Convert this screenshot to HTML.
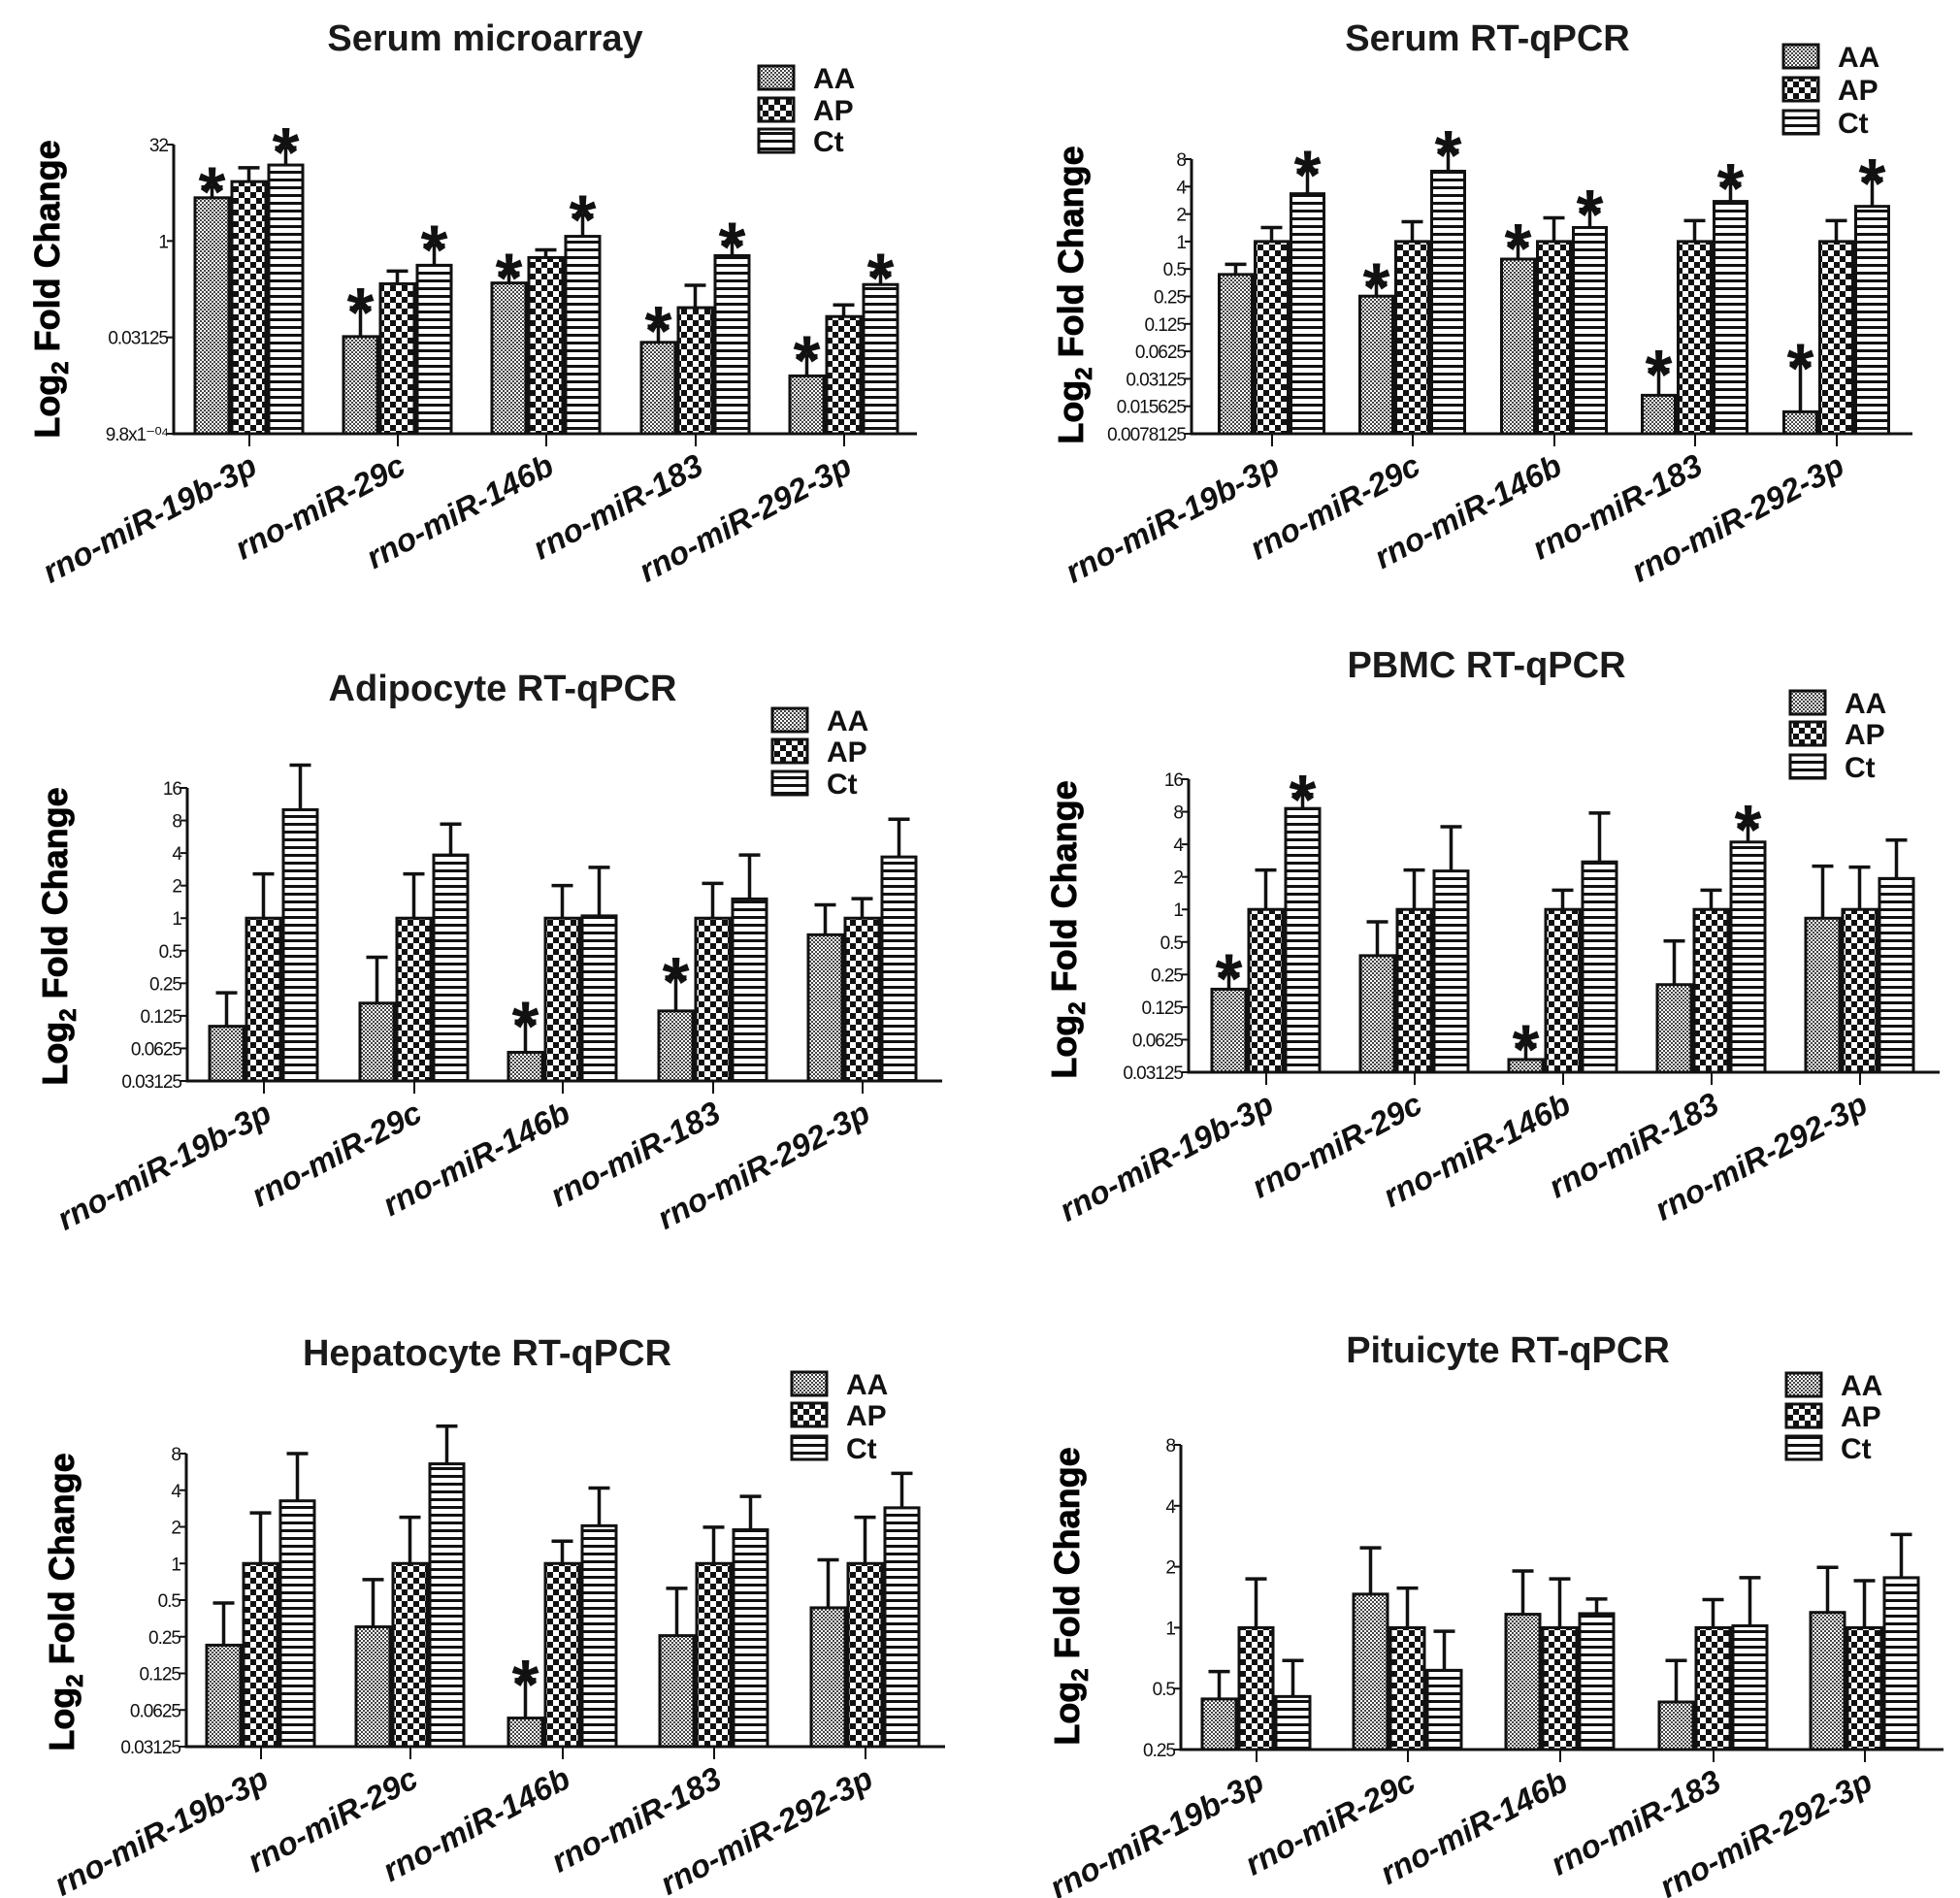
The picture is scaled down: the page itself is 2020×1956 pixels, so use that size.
<!DOCTYPE html>
<html><head><meta charset="utf-8">
<style>
html,body{margin:0;padding:0;background:#fff;}
svg{display:block;}
text{font-family:"Liberation Sans",Arial,sans-serif;}
</style></head>
<body>
<svg id="fig" width="2020" height="1956" viewBox="0 0 2020 1956" xmlns="http://www.w3.org/2000/svg">
<defs>
<pattern id="pAA" width="4" height="4" patternUnits="userSpaceOnUse">
<rect width="4" height="4" fill="#fff"/><rect width="2" height="2" fill="#444"/><rect x="2" y="2" width="2" height="2" fill="#444"/>
</pattern>
<pattern id="pAP" width="12" height="12" patternUnits="userSpaceOnUse">
<rect width="12" height="12" fill="#fff"/><rect width="6" height="6" fill="#111"/><rect x="6" y="6" width="6" height="6" fill="#111"/>
</pattern>
<pattern id="pCt" width="8" height="8" patternUnits="userSpaceOnUse">
<rect width="8" height="8" fill="#fff"/><rect y="0" width="8" height="3" fill="#111"/>
</pattern>
</defs>
</svg>
<script>
const categories = ["rno-miR-19b-3p","rno-miR-29c","rno-miR-146b","rno-miR-183","rno-miR-292-3p"];
const seriesNames = ["AA","AP","Ct"];

// Panel 1: Serum microarray (log2 values)
const p1AA = [2.24,-4.96,-2.18,-5.26,-7.0];
const p1AP = [3.08,-2.22,-0.86,-3.46,-3.92];
const p1Ct = [3.94,-1.26,0.24,-0.76,-2.26];
const p1AAerr = [2.8,-3.46,-1.66,-4.42,-5.96];
const p1APerr = [3.8,-1.56,-0.46,-2.3,-3.32];
const p1Cterr = [4.84,-0.22,1.34,-0.06,-1.66];
const p1Ticks = ["32","1","0.03125","9.8x1\u207B\u2070\u2074"];
const p1TickVals = [5,0,-5,-10];
const p1Stars = [[0,0],[0,2],[1,0],[1,2],[2,0],[2,2],[3,0],[3,2],[4,0],[4,2]];

// Panel 2: Serum RT-qPCR
const p2AA = [-1.2,-1.99,-0.64,-5.6,-6.2];
const p2AP = [0,0,0,0,0];
const p2Ct = [1.74,2.56,0.51,1.46,1.28];
const p2AAerr = [-0.83,-1.5,-0.07,-4.66,-4.43];
const p2APerr = [0.51,0.72,0.86,0.76,0.76];
const p2Cterr = [2.6,3.32,1.17,2.11,2.29];
const p2Ticks = ["8","4","2","1","0.5","0.25","0.125","0.0625","0.03125","0.015625","0.0078125"];
const p2TickVals = [3,2,1,0,-1,-2,-3,-4,-5,-6,-7];
const p2Stars = [[0,2],[1,0],[1,2],[2,0],[2,2],[3,0],[3,2],[4,0],[4,2]];

// Panel 3: Adipocyte RT-qPCR
const p3AA = [-3.32,-2.61,-4.12,-2.85,-0.51];
const p3AP = [0,0,0,0,0];
const p3Ct = [3.33,1.94,0.07,0.59,1.88];
const p3AAerr = [-2.29,-1.2,-3.16,-1.81,0.41];
const p3APerr = [1.36,1.36,1.0,1.07,0.6];
const p3Cterr = [4.7,2.89,1.56,1.94,3.04];
const p3Ticks = ["16","8","4","2","1","0.5","0.25","0.125","0.0625","0.03125"];
const p3TickVals = [4,3,2,1,0,-1,-2,-3,-4,-5];
const p3Stars = [[2,0],[3,0]];

// Panel 4: PBMC RT-qPCR
const p4AA = [-2.45,-1.42,-4.61,-2.31,-0.27];
const p4AP = [0,0,0,0,0];
const p4Ct = [3.1,1.18,1.46,2.07,0.95];
const p4AAerr = [-1.98,-0.38,-4.15,-0.97,1.33];
const p4APerr = [1.21,1.21,0.59,0.59,1.3];
const p4Cterr = [3.53,2.54,2.96,2.6,2.13];
const p4Ticks = p3Ticks;
const p4TickVals = p3TickVals;
const p4Stars = [[0,0],[0,2],[2,0],[3,2]];

// Panel 5: Hepatocyte RT-qPCR
const p5AA = [-2.23,-1.73,-4.22,-1.97,-1.21];
const p5AP = [0,0,0,0,0];
const p5Ct = [1.71,2.72,1.03,0.92,1.52];
const p5AAerr = [-1.08,-0.44,-3.17,-0.68,0.1];
const p5APerr = [1.38,1.26,0.61,0.99,1.26];
const p5Cterr = [3.0,3.75,2.06,1.83,2.46];
const p5Ticks = ["8","4","2","1","0.5","0.25","0.125","0.0625","0.03125"];
const p5TickVals = [3,2,1,0,-1,-2,-3,-4,-5];
const p5Stars = [[2,0]];

// Panel 6: Pituicyte RT-qPCR
const p6AA = [-1.17,0.55,0.22,-1.22,0.25];
const p6AP = [0,0,0,0,0];
const p6Ct = [-1.13,-0.7,0.23,0.03,0.82];
const p6AAerr = [-0.72,1.31,0.93,-0.54,0.99];
const p6APerr = [0.8,0.65,0.8,0.46,0.77];
const p6Cterr = [-0.54,-0.06,0.47,0.82,1.53];
const p6Ticks = ["8","4","2","1","0.5","0.25"];
const p6TickVals = [3,2,1,0,-1,-2];
const p6Stars = [];

const NS = "http://www.w3.org/2000/svg";
const svg = document.getElementById('fig');
function mk(tag, attrs, parent){
  const e = document.createElementNS(NS, tag);
  for (const k in attrs) e.setAttribute(k, attrs[k]);
  (parent||svg).appendChild(e);
  return e;
}

const panels = [
 {name:"serum-microarray", title:"Serum microarray", tx:500, ty:52, ax:179, x1:945, top:149, base:447, vmin:-10, vmax:5,
  groups:[257,410,563,717,870], bw:38, data:[p1AA,p1AP,p1Ct], err:[p1AAerr,p1APerr,p1Cterr], ticks:p1Ticks, tickVals:p1TickVals, stars:p1Stars,
  lx:782, ly:[80,113,145], ytx:48, yty:298},
 {name:"serum-rt-qpcr", title:"Serum RT-qPCR", tx:1533, ty:52, ax:1228, x1:1971, top:164, base:447, vmin:-7, vmax:3,
  groups:[1311,1456,1602,1747,1893], bw:37, data:[p2AA,p2AP,p2Ct], err:[p2AAerr,p2APerr,p2Cterr], ticks:p2Ticks, tickVals:p2TickVals, stars:p2Stars,
  lx:1838, ly:[58,92,126], ytx:1103, yty:304},
 {name:"adipocyte-rt-qpcr", title:"Adipocyte RT-qPCR", tx:518, ty:722, ax:193, x1:971, top:812, base:1114, vmin:-5, vmax:4,
  groups:[272,427,580,735,889], bw:38, data:[p3AA,p3AP,p3Ct], err:[p3AAerr,p3APerr,p3Cterr], ticks:p3Ticks, tickVals:p3TickVals, stars:p3Stars,
  lx:796, ly:[742,774,807], ytx:56, yty:965},
 {name:"pbmc-rt-qpcr", title:"PBMC RT-qPCR", tx:1532, ty:698, ax:1225, x1:1999, top:803, base:1105, vmin:-5, vmax:4,
  groups:[1305,1458,1611,1764,1917], bw:38, data:[p4AA,p4AP,p4Ct], err:[p4AAerr,p4APerr,p4Cterr], ticks:p4Ticks, tickVals:p4TickVals, stars:p4Stars,
  lx:1845, ly:[724,756,790], ytx:1096, yty:958},
 {name:"hepatocyte-rt-qpcr", title:"Hepatocyte RT-qPCR", tx:502, ty:1407, ax:192, x1:974, top:1498, base:1800, vmin:-5, vmax:3,
  groups:[269,423,580,736,892], bw:38, data:[p5AA,p5AP,p5Ct], err:[p5AAerr,p5APerr,p5Cterr], ticks:p5Ticks, tickVals:p5TickVals, stars:p5Stars,
  lx:816, ly:[1426,1458,1492], ytx:63, yty:1651},
 {name:"pituicyte-rt-qpcr", title:"Pituicyte RT-qPCR", tx:1554, ty:1404, ax:1217, x1:2003, top:1489, base:1803, vmin:-2, vmax:3,
  groups:[1295,1451,1608,1766,1922], bw:38, data:[p6AA,p6AP,p6Ct], err:[p6AAerr,p6APerr,p6Cterr], ticks:p6Ticks, tickVals:p6TickVals, stars:p6Stars,
  lx:1841, ly:[1427,1459,1492], ytx:1099, yty:1645}
];
const fills = ["url(#pAA)","url(#pAP)","url(#pCt)"];

panels.forEach(p => {
  const g = mk('g', {});
  
  
  const yScale = v => p.base - (v - p.vmin) / (p.vmax - p.vmin) * (p.base - p.top);

  const t = mk('text', {x:p.tx, y:p.ty, 'text-anchor':'middle', 'font-size':38, 'font-weight':'bold', fill:'#1a1a1a'}, g);
  t.textContent = p.title;
  
  

  const yt = mk('text', {x:0, y:0, transform:`translate(${p.ytx + 13},${p.yty}) rotate(-90)`, 'text-anchor':'middle', 'font-size':36, 'font-weight':'bold', fill:'#000', stroke:'#000', 'stroke-width':0.8}, g);
  yt.innerHTML = 'Log<tspan font-size="24" dy="9">2</tspan><tspan dy="-9"> Fold Change</tspan>';
  
  

  p.groups.forEach((gx, gi) => {
    for (let s = 0; s < 3; s++) {
      const v = p.data[s][gi];
      const x = gx - 1.5 * p.bw + s * p.bw + 1;
      const yTop = yScale(v);
      const r = mk('rect', {x:x, y:yTop, width:p.bw - 3, height:p.base - yTop, fill:fills[s], stroke:'#111', 'stroke-width':3}, g);
      
      
      const ye = yScale(p.err[s][gi]);
      const cx = x + (p.bw - 3) / 2;
      const el = mk('path', {d:`M${cx},${yTop} V${ye} M${cx - 11},${ye} H${cx + 11}`, stroke:'#111', 'stroke-width':3.5, fill:'none'}, g);
      
      
    }
  });

  p.stars.forEach(st => {
    const gi = st[0], s = st[1];
    const x = p.groups[gi] - 1.5 * p.bw + s * p.bw + 1 + (p.bw - 3) / 2;
    const ye = yScale(p.err[s][gi]);
    const tx = mk('text', {x:x, y:ye + 30, 'text-anchor':'middle', 'font-size':72, 'font-weight':'bold', fill:'#111'}, g);
    tx.textContent = '*';
    
    
  });

  const ax = mk('path', {d:`M${p.ax},${p.top} V${p.base} H${p.x1}`, stroke:'#111', 'stroke-width':3, fill:'none'}, g);
  
  

  p.tickVals.forEach((tv, i) => {
    const y = yScale(tv);
    mk('line', {x1:p.ax - 7, x2:p.ax, y1:y, y2:y, stroke:'#111', 'stroke-width':2}, g);
    const lab = mk('text', {x:p.ax - 6, y:y + 7, 'text-anchor':'end', 'font-size':19, 'letter-spacing':-1, fill:'#111'}, g);
    lab.textContent = p.ticks[i];
    
    
  });

  p.groups.forEach((gx, gi) => {
    mk('line', {x1:gx, x2:gx, y1:p.base, y2:p.base + 13, stroke:'#111', 'stroke-width':2}, g);
    const lab = mk('text', {x:0, y:0, transform:`translate(${gx + 10},${p.base + 40}) rotate(-28)`, 'text-anchor':'end', 'font-size':33, 'font-weight':'bold', 'font-style':'italic', fill:'#111'}, g);
    lab.textContent = categories[gi];
    
    
  });

  for (let s = 0; s < 3; s++) {
    const r = mk('rect', {x:p.lx, y:p.ly[s] - 12, width:36, height:24, fill:fills[s], stroke:'#111', 'stroke-width':3}, g);
    
    
    const lt = mk('text', {x:p.lx + 56, y:p.ly[s] + 11, 'font-size':30, 'font-weight':'bold', fill:'#111'}, g);
    lt.textContent = seriesNames[s];
    
    
  }
});
</script>
</body></html>
